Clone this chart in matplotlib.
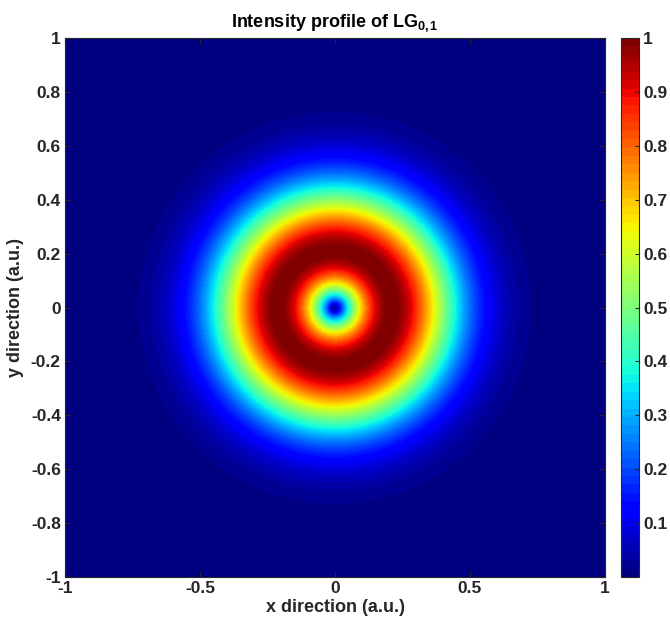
import matplotlib
matplotlib.use("Agg")
import matplotlib.pyplot as plt
import numpy as np
from matplotlib.ticker import FuncFormatter

# beam parameters for the LG_{0,1} mode
waist = 0.30
n_grid = 601
x_lim = [-1, 1]
y_lim = [-1, 1]
x_ticks = [-1, -0.5, 0, 0.5, 1]
y_ticks = [-1, -0.8, -0.6, -0.4, -0.2, 0, 0.2, 0.4, 0.6, 0.8, 1]
cbar_ticks = [0.1, 0.2, 0.3, 0.4, 0.5, 0.6, 0.7, 0.8, 0.9, 1]

xs = np.linspace(x_lim[0], x_lim[1], n_grid)
ys = np.linspace(y_lim[0], y_lim[1], n_grid)
X, Y = np.meshgrid(xs, ys)
R = np.sqrt(X**2 + Y**2)
field = R * np.exp(-R**2 / waist**2)
field = field / field.max()

plt.rcParams['font.family'] = ['Liberation Sans', 'DejaVu Sans']
plt.rcParams['font.weight'] = 'bold'
plt.rcParams['mathtext.fontset'] = 'custom'
plt.rcParams['mathtext.rm'] = 'Liberation Sans:bold'
plt.rcParams['mathtext.bf'] = 'Liberation Sans:bold'
plt.rcParams['mathtext.it'] = 'Liberation Sans:bold'
plt.rcParams['mathtext.default'] = 'bf'

txt = '#262626'
fig = plt.figure(figsize=(6.70, 6.27), dpi=100)
W, H = 670, 627
ax = fig.add_axes([65 / W, 1 - 577 / H, 540 / W, 539 / H])
cax = fig.add_axes([621 / W, 1 - 577 / H, 18 / W, 539 / H])

cmap = plt.get_cmap('jet', 64)
mesh = ax.pcolormesh(X, Y, field, cmap=cmap, vmin=field.min(), vmax=1,
                     shading='gouraud', rasterized=True)
ax.set_xlim(x_lim)
ax.set_ylim(y_lim)

fmt = FuncFormatter(lambda v, p: f"{v:g}")
ax.set_xticks(x_ticks)
ax.set_yticks(y_ticks)
ax.xaxis.set_major_formatter(fmt)
ax.yaxis.set_major_formatter(fmt)
ax.tick_params(direction='in', top=True, right=True, length=4, width=0.8,
               labelsize=12.5, colors=txt, pad=3)
for s in ax.spines.values():
    s.set_color(txt)
    s.set_linewidth(0.8)

ax.set_xlabel('x direction (a.u.)', fontsize=13, fontweight='bold', color=txt, labelpad=2)
ax.set_ylabel('y direction (a.u.)', fontsize=13, fontweight='bold', color=txt, labelpad=5)
ax.set_title('Intensity profile of LG$_{0,1}$', fontsize=13, fontweight='bold',
             color='black', pad=8)

cb = fig.colorbar(mesh, cax=cax, ticks=cbar_ticks)
cb.ax.yaxis.set_major_formatter(fmt)
cb.ax.tick_params(direction='in', length=3, width=0.8, labelsize=12.5,
                  colors=txt, pad=3)
cb.outline.set_edgecolor(txt)
cb.outline.set_linewidth(0.8)

fig.savefig('out.png', dpi=100)
